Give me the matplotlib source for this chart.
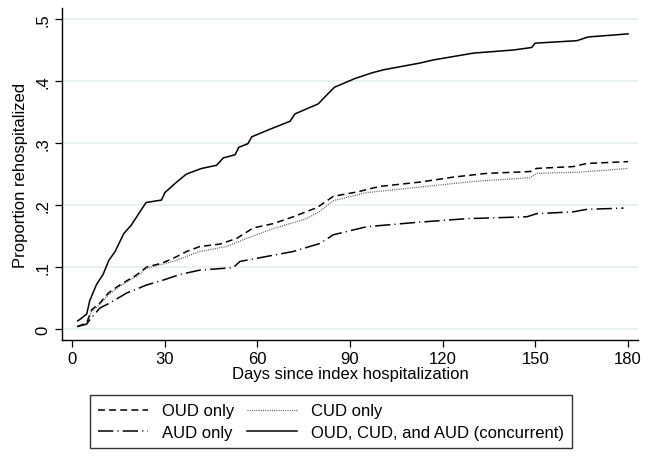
import numpy as np
import matplotlib
matplotlib.use('Agg')
import matplotlib.pyplot as plt

plt.rcParams['font.family'] = ['Liberation Sans', 'DejaVu Sans']
plt.rcParams['lines.scale_dashes'] = False

# cumulative proportion rehospitalized
oud_days = [1.8, 4.8, 6.4, 9.1, 11.8, 15.5, 20.9, 24.2, 29, 32.8, 37.1, 41.4, 47.9,
            53.3, 58.7, 65.2, 71.6, 79.4, 84.6, 92.2, 99.7, 112.7, 123.4, 134.2,
            148.3, 150.4, 162.3, 166.6, 180]
oud_prop = [.004, .010, .031, .042, .058, .071, .087, .100, .106, .114, .125, .133, .137,
            .146, .163, .170, .181, .196, .214, .221, .230, .237, .245, .251,
            .254, .259, .262, .267, .270]

cud_days = [1.8, 4.8, 6.4, 9.1, 11.8, 15.5, 20.9, 24.2, 32.8, 41.4, 50, 56.5, 65.2,
            76, 80.3, 84.6, 95.4, 112.7, 130, 148.3, 150.4, 164.5, 180]
cud_prop = [.004, .008, .028, .040, .055, .069, .085, .098, .109, .125, .133, .146, .162,
            .178, .190, .207, .220, .229, .238, .244, .251, .253, .259]

aud_days = [1.8, 4.8, 5.8, 9.1, 12.3, 17.7, 24.2, 29.6, 35, 41.4, 52.2, 54.4, 63,
            71.6, 80.3, 84.6, 95.4, 111.6, 127.8, 147.2, 150.4, 162.3, 166.6, 178.5]
aud_prop = [.004, .008, .015, .034, .042, .058, .071, .079, .088, .095, .099, .109, .117,
            .125, .138, .152, .165, .172, .178, .181, .186, .189, .193, .195]

conc_days = [1.9, 4.8, 5.8, 8, 10.1, 12, 14, 16.8, 19.3, 21.5, 24, 29, 30.1, 33.9,
             37.1, 42, 46.8, 49, 52.8, 54, 57, 58.2, 64, 70.6, 72.2, 79.7, 82.4, 85,
             91.6, 97, 100.8, 112.7, 117, 130, 142.9, 148.8, 149.9, 163.4, 167.1, 180]
conc_prop = [.013, .024, .046, .072, .088, .111, .125, .154, .168, .185, .204, .208, .220, .237,
             .250, .259, .264, .276, .281, .293, .299, .310, .322, .335, .347, .363, .377, .390,
             .404, .413, .418, .429, .434, .445, .450, .454, .461, .465, .471, .476]

x_ticks = [0, 30, 60, 90, 120, 150, 180]
y_ticks = [0, .1, .2, .3, .4, .5]
y_tick_labels = ['0', '.1', '.2', '.3', '.4', '.5']

fig, axs = plt.subplots(figsize=(6.51, 4.60), dpi=100)
fig.subplots_adjust(left=0.0952, right=0.98, bottom=0.2587, top=0.9804)

lw = 1.1
l_oud, = axs.plot(oud_days, oud_prop, color='black', lw=lw, linestyle=(0, (5, 3)),
                  label='OUD only')
l_cud, = axs.plot(cud_days, cud_prop, color='#555555', lw=0.9, linestyle=(0, (0.7, 0.9)),
                  label='CUD only')
l_aud, = axs.plot(aud_days, aud_prop, color='black', lw=lw, linestyle=(0, (11, 3, 0.8, 3)),
                  label='AUD only')
l_conc, = axs.plot(conc_days, conc_prop, color='black', lw=lw, linestyle='-',
                   label='OUD, CUD, and AUD (concurrent)')

axs.set_xlim(-3.2, 183.2)
axs.set_ylim(-0.0177, 0.5177)
axs.set_xticks(x_ticks)
axs.set_yticks(y_ticks)
axs.set_yticklabels(y_tick_labels, rotation=90, va='center')
axs.tick_params(axis='x', labelsize=12, length=5, width=0.9, pad=3)
axs.tick_params(axis='y', labelsize=12, length=5, width=0.9, pad=3)

axs.grid(True, which='major', axis='y', color='#e4eef0', lw=1.1)
axs.set_axisbelow(True)
axs.spines['top'].set_visible(False)
axs.spines['right'].set_visible(False)
axs.spines['left'].set_linewidth(1.0)
axs.spines['bottom'].set_linewidth(1.0)

axs.set_xlabel('Days since index hospitalization', fontsize=12, labelpad=0)
axs.set_ylabel('Proportion rehospitalized', fontsize=12, labelpad=6)

leg = fig.legend([l_oud, l_aud, l_cud, l_conc],
                 ['OUD only', 'AUD only', 'CUD only', 'OUD, CUD, and AUD (concurrent)'],
                 ncol=2, loc='upper left', bbox_to_anchor=(90 / 651, 1 - 396 / 460),
                 fontsize=12, frameon=True, fancybox=False, edgecolor='black',
                 handlelength=3.0, handletextpad=0.8, columnspacing=0.8,
                 labelspacing=0.4, borderpad=0.5, borderaxespad=0)
leg.get_frame().set_linewidth(1.0)

plt.savefig('out.png', dpi=100, facecolor='white')
